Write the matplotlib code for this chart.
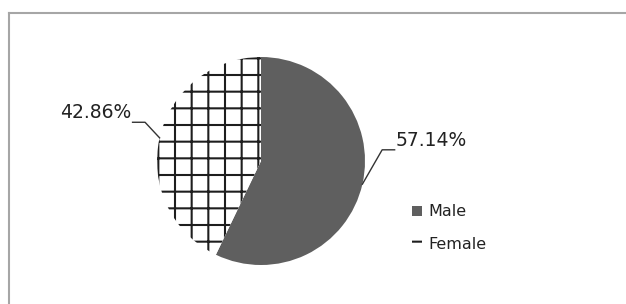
import numpy as np
import matplotlib
matplotlib.use("Agg")
import matplotlib.pyplot as plt
from matplotlib.lines import Line2D

categories = ["Male", "Female"]
values = [57.14, 42.86]
labels = ["57.14%", "42.86%"]
colors = ["#5f5f5f", "white"]
hatches = [None, "+"]

plt.rcParams["hatch.linewidth"] = 1.5
plt.rcParams["font.family"] = ["DejaVu Sans"]

W, H = 626, 304
fig = plt.figure(figsize=(W / 100, H / 100), dpi=100)

# border lines (top and left)
fig.add_artist(Line2D([9 / W, 1], [1 - 13 / H, 1 - 13 / H], color="#a6a6a6", lw=1.5,
                      transform=fig.transFigure))
fig.add_artist(Line2D([9 / W, 9 / W], [0, 1 - 13 / H], color="#a6a6a6", lw=1.5,
                      transform=fig.transFigure))

cx, cy, r = 261, 161, 104
ax = fig.add_axes([(cx - r) / W, 1 - (cy + r) / H, 2 * r / W, 2 * r / H])
wedges, _ = ax.pie(values, colors=colors, startangle=90, counterclock=False,
                   radius=1, wedgeprops=dict(linewidth=0))
for w, h in zip(wedges, hatches):
    if h:
        w.set_hatch(h)
        w.set_edgecolor("#1e1e1e")
ax.set_xlim(-1, 1)
ax.set_ylim(-1, 1)
ax.set_aspect("equal")
ax.axis("off")

# leader lines and labels
for w, lab in zip(wedges, labels):
    ang = np.deg2rad((w.theta1 + w.theta2) / 2)
    x0, y0 = np.cos(ang), np.sin(ang)
    side = 1 if x0 > 0 else -1
    if side > 0:
        xe, ye = x0 + 0.19, y0 + 0.33
    else:
        xe, ye = x0 - 0.14, y0 + 0.15
    xt = xe + side * 0.12
    ax.plot([x0, xe, xt], [y0, ye, ye], color="#333333", lw=1.0, clip_on=False)
    ax.text(xt + side * 0.01, ye + 0.09, lab, ha="left" if side > 0 else "right",
            va="center", fontsize=13.5, color="#222222", clip_on=False)

leg = fig.legend(wedges, categories, loc="center left",
                 bbox_to_anchor=(398 / W, 1 - 228 / H), frameon=False,
                 fontsize=11.5, handlelength=0.6, handleheight=0.6,
                 handletextpad=0.4, labelspacing=1.1)
for t in leg.get_texts():
    t.set_color("#222222")

fig.savefig("out.png", dpi=100)
